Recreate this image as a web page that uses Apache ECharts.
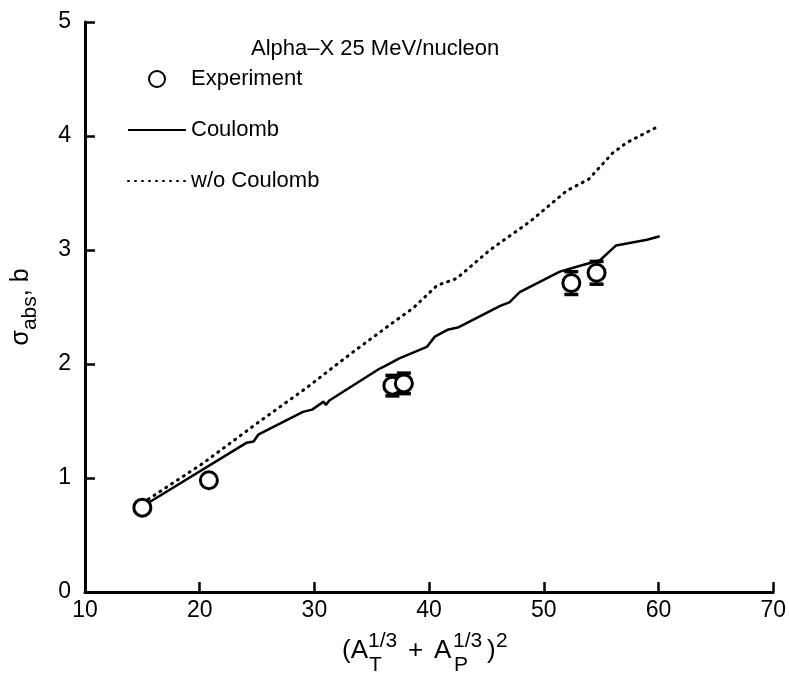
<!DOCTYPE html>
<html><head><meta charset="utf-8">
<script src="https://cdn.jsdelivr.net/npm/echarts@6/dist/echarts.min.js"></script>
<style>html,body{margin:0;padding:0;background:#fff}#c{width:789px;height:679px}</style>
</head><body><div id="c"></div>
<script>
var xTicks = [10, 20, 30, 40, 50, 60, 70];
var yTicks = [0, 1, 2, 3, 4, 5];
var expX = [15, 20.8, 36.8, 37.8, 52.4, 54.6];
var expY = [0.74, 0.98, 1.81, 1.83, 2.71, 2.80];
var expErr = [0, 0, 0.09, 0.09, 0.10, 0.10];
var coulombX = [15, 24.1, 24.7, 25.1, 29.0, 29.8, 30.8, 31.0, 31.3, 35.7, 36.1, 37.4, 39.8, 40.5, 41.6, 42.5, 46.2, 47.0, 47.9, 51.4, 53.1, 54.9, 56.3, 59.0, 60.1];
var coulombY = [0.75, 1.31, 1.32, 1.38, 1.58, 1.60, 1.67, 1.64, 1.68, 1.96, 1.98, 2.05, 2.15, 2.24, 2.30, 2.32, 2.51, 2.54, 2.63, 2.81, 2.86, 2.91, 3.04, 3.09, 3.12];
var woX = [15, 20.3, 25.0, 29.3, 33.3, 36.8, 38.6, 40.7, 42.4, 45.3, 48.8, 52.0, 53.9, 56.0, 57.2, 59.7];
var woY = [0.78, 1.13, 1.48, 1.79, 2.10, 2.36, 2.49, 2.69, 2.75, 3.00, 3.25, 3.52, 3.62, 3.85, 3.94, 4.07];

var FONT = '"Liberation Sans", Arial, Helvetica, sans-serif';
function zip(a, b) { return a.map(function (v, i) { return [v, b[i]]; }); }
var expData = expX.map(function (v, i) { return [v, expY[i], expErr[i]]; });

function txt(x, y, t, size) {
  return { type: 'text', x: x, y: y, style: { text: t, font: size + 'px ' + FONT, fill: '#000', textVerticalAlign: 'middle' } };
}
var yb = 651;
var xTitle = [
  txt(342, yb, '(A', 26),
  txt(368, yb - 10, '1/3', 21),
  txt(369, yb + 14, 'T', 21),
  txt(408, yb, '+', 26),
  txt(434, yb, 'A', 26),
  txt(453, yb - 10, '1/3', 21),
  txt(454, yb + 14, 'P', 21),
  txt(487, yb, ')', 26),
  txt(496, yb - 10, '2', 21)
];

var chart = echarts.init(document.getElementById('c'));
chart.setOption({
  backgroundColor: '#fff',
  animation: false,
  title: {
    text: 'Alpha\u2013X 25 MeV/nucleon',
    left: 246, top: 33,
    textStyle: { fontFamily: FONT, fontSize: 22, fontWeight: 'normal', color: '#000' }
  },
  legend: {
    orient: 'vertical', left: 122, top: 63,
    itemWidth: 58, itemHeight: 16, itemGap: 29,
    textStyle: { fontFamily: FONT, fontSize: 22, color: '#000' },
    data: [
      { name: 'Experiment' },
      { name: 'Coulomb', itemStyle: { opacity: 0 } },
      { name: 'w/o Coulomb', itemStyle: { opacity: 0 } }
    ]
  },
  graphic: xTitle,
  grid: { left: 85, right: 15, top: 22, bottom: 87 },
  xAxis: {
    type: 'value', min: xTicks[0], max: xTicks[xTicks.length - 1], interval: 10,
    axisLine: { lineStyle: { color: '#000', width: 3 } },
    axisTick: { inside: true, length: 10, lineStyle: { color: '#000', width: 2.5 } },
    axisLabel: { color: '#000', fontFamily: FONT, fontSize: 23, margin: 7 },
    splitLine: { show: false }
  },
  yAxis: {
    type: 'value', min: yTicks[0], max: yTicks[yTicks.length - 1], interval: 1,
    axisLine: { lineStyle: { color: '#000', width: 3 } },
    axisTick: { inside: true, length: 10, lineStyle: { color: '#000', width: 2.5 } },
    axisLabel: { color: '#000', fontFamily: FONT, fontSize: 23, margin: 14 },
    splitLine: { show: false },
    name: '{n|\u03c3}{sub|abs}{n|, b}',
    nameLocation: 'middle', nameGap: 44, nameRotate: 90,
    nameTextStyle: {
      rich: {
        n: { fontFamily: FONT, fontSize: 25, color: '#000', lineHeight: 32, verticalAlign: 'top' },
        sub: { fontFamily: FONT, fontSize: 21, color: '#000', lineHeight: 32, verticalAlign: 'bottom' }
      }
    }
  },
  series: [
    {
      name: 'w/o Coulomb', type: 'line', data: zip(woX, woY), symbol: 'none',
      itemStyle: { color: '#000' },
      lineStyle: { color: '#000', width: 3, type: [1, 6], cap: 'round' }, z: 2
    },
    {
      name: 'Coulomb', type: 'line', data: zip(coulombX, coulombY), symbol: 'none',
      itemStyle: { color: '#000' },
      lineStyle: { color: '#000', width: 2.5 }, z: 3
    },
    {
      name: 'errbar', type: 'custom', data: expData, z: 4,
      renderItem: function (params, api) {
        var x = api.value(0), y = api.value(1), e = api.value(2);
        if (!e) return { type: 'group', children: [] };
        var top = api.coord([x, y + e]);
        var bot = api.coord([x, y - e]);
        var s = { stroke: '#000', lineWidth: 2.5 };
        return { type: 'group', children: [
          { type: 'line', shape: { x1: top[0], y1: top[1], x2: bot[0], y2: bot[1] }, style: s },
          { type: 'line', shape: { x1: top[0] - 7, y1: top[1], x2: top[0] + 7, y2: top[1] }, style: { stroke: '#000', lineWidth: 3.5 } },
          { type: 'line', shape: { x1: bot[0] - 7, y1: bot[1], x2: bot[0] + 7, y2: bot[1] }, style: { stroke: '#000', lineWidth: 3.5 } }
        ] };
      }
    },
    {
      name: 'Experiment', type: 'scatter', data: zip(expX, expY), symbol: 'circle', symbolSize: 17,
      itemStyle: { color: '#fff', borderColor: '#000', borderWidth: 3, opacity: 1 }, z: 5
    }
  ]
});
</script></body></html>
